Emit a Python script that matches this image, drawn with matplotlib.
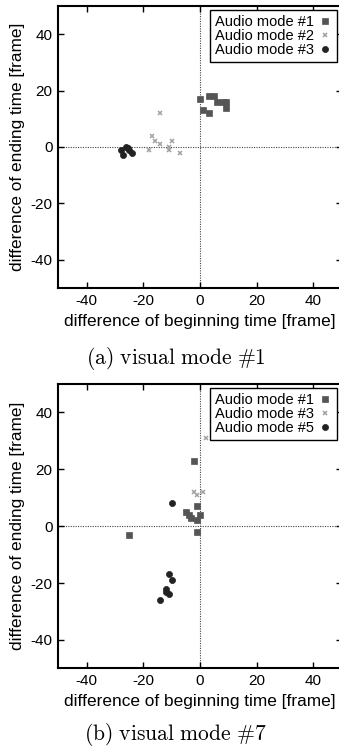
import matplotlib
matplotlib.use("Agg")
from matplotlib import pyplot as plt

plt.rcParams['font.family'] = ['Liberation Sans', 'DejaVu Sans']
plt.rcParams['axes.unicode_minus'] = False
plt.rcParams['mathtext.fontset'] = 'cm'

# (a) visual mode #1
a_m1_x = [0, 1, 3, 3, 5, 6, 8, 9, 9]
a_m1_y = [17, 13, 18, 12, 18, 16, 16, 16, 14]
a_m2_x = [-14, -17, -16, -14, -18, -11, -11, -10, -7]
a_m2_y = [12, 4, 2, 1, -1, 0, -1, 2, -2]
a_m3_x = [-28, -27, -26, -25.5, -25, -24]
a_m3_y = [-1, -3, 0, -0.5, -1, -2]

# (b) visual mode #7
b_m1_x = [-2, -1, -5, -4, -3, -1, 0, -1, -25]
b_m1_y = [23, 7, 5, 4, 3, 2, 4, -2, -3]
b_m3_x = [2, -2, -1, 1]
b_m3_y = [31, 12, 11, 12]
b_m5_x = [-10, -11, -10, -12, -12, -11, -14]
b_m5_y = [8, -17, -19, -22, -23, -24, -26]

ticks = [-40, -20, 0, 20, 40]
label_fs = 12.4
tick_fs = 11
leg_fs = 10.5

fig = plt.figure(figsize=(3.39, 7.47), dpi=100)


def panel(ax, series, caption, cap_y):
    ax.axvline(0, color='#444444', lw=0.8, ls=(0, (1, 1.2)), zorder=1)
    ax.axhline(0, color='#444444', lw=0.8, ls=(0, (1, 1.2)), zorder=1)
    for xs, ys, lab, mk, col, ms in series:
        ax.plot(xs, ys, ls='none', marker=mk, color=col, ms=ms,
                mew=1.1 if mk == 'x' else 0.5, label=lab, zorder=3)
    ax.set_xlim(-50, 50)
    ax.set_ylim(-50, 50)
    ax.set_xticks(ticks)
    ax.set_yticks(ticks)
    ax.tick_params(direction='in', length=4, width=1, top=True, right=True,
                   labelsize=tick_fs, pad=4)
    for s in ax.spines.values():
        s.set_linewidth(1.5)
    ax.set_xlabel('difference of beginning time [frame]', fontsize=label_fs)
    ax.set_ylabel('difference of ending time [frame]', fontsize=label_fs)
    ax.xaxis.set_label_coords(0.5, -0.092)
    ax.yaxis.set_label_coords(-0.118, 0.5)
    leg = ax.legend(loc='upper right', markerfirst=False, fontsize=leg_fs,
                    fancybox=False, framealpha=1, edgecolor='black',
                    borderaxespad=0.3, handlelength=1.1, handletextpad=0.2,
                    labelspacing=0.0, borderpad=0.32)
    leg.get_frame().set_linewidth(1.0)
    fig.text(0.518, cap_y, caption, ha='center', va='center', fontsize=15.5)


ax1 = fig.add_axes([58.3 / 339, (747 - 288) / 747, 283.4 / 339, 282 / 747])
panel(ax1, [
    (a_m1_x, a_m1_y, 'Audio mode #1', 's', '#555555', 3.8),
    (a_m2_x, a_m2_y, 'Audio mode #2', 'x', '#a0a0a0', 3.2),
    (a_m3_x, a_m3_y, 'Audio mode #3', 'o', '#222222', 4.4),
], r'$\mathrm{(a)\ visual\ mode\ \#1}$', 1 - 358 / 747)

ax2 = fig.add_axes([58.3 / 339, (747 - 668.3) / 747, 283.4 / 339, 284.3 / 747])
panel(ax2, [
    (b_m1_x, b_m1_y, 'Audio mode #1', 's', '#555555', 3.8),
    (b_m3_x, b_m3_y, 'Audio mode #3', 'x', '#a0a0a0', 3.2),
    (b_m5_x, b_m5_y, 'Audio mode #5', 'o', '#222222', 4.4),
], r'$\mathrm{(b)\ visual\ mode\ \#7}$', 1 - 735 / 747)

fig.savefig('out.png', dpi=100)
